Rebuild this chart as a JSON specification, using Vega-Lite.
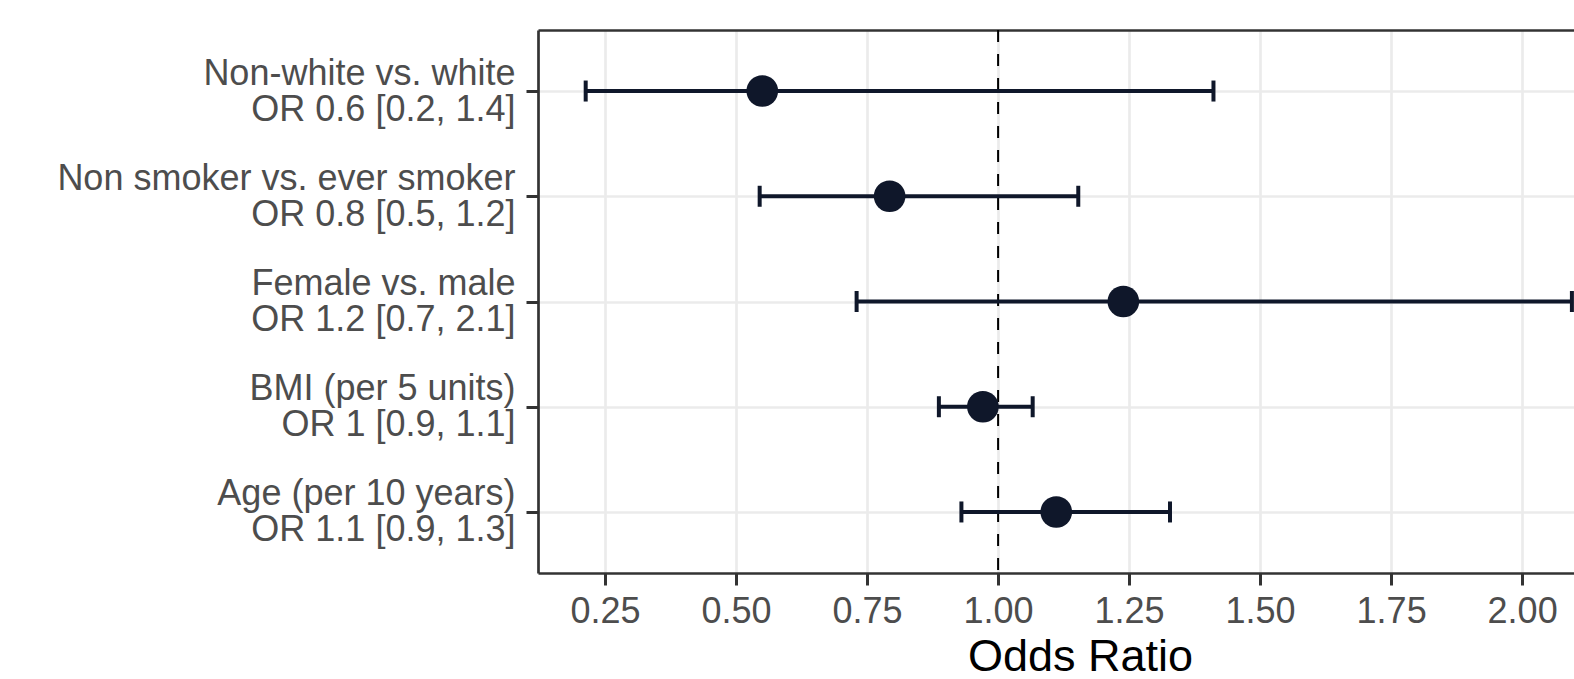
{
  "$schema": "https://vega.github.io/schema/vega-lite/v6.json",
  "width": 1036,
  "height": 543,
  "autosize": {"type": "none"},
  "padding": {"left": 538, "top": 30, "right": 0, "bottom": 106},
  "background": "white",
  "config": {"view": {"stroke": null}, "font": "Liberation Sans"},
  "data": {
    "values": [
      {"label": "Non-white vs. white|OR 0.6 [0.2, 1.4]", "or": 0.550, "lo": 0.213, "hi": 1.411},
      {"label": "Non smoker vs. ever smoker|OR 0.8 [0.5, 1.2]", "or": 0.793, "lo": 0.545, "hi": 1.153},
      {"label": "Female vs. male|OR 1.2 [0.7, 2.1]", "or": 1.239, "lo": 0.730, "hi": 2.095},
      {"label": "BMI (per 5 units)|OR 1 [0.9, 1.1]", "or": 0.971, "lo": 0.887, "hi": 1.066},
      {"label": "Age (per 10 years)|OR 1.1 [0.9, 1.3]", "or": 1.111, "lo": 0.930, "hi": 1.328}
    ]
  },
  "resolve": {"axis": {"x": "independent"}},
  "layer": [
    {
      "data": {"values": [{"ref": 1}]},
      "mark": {"type": "rule", "strokeDash": [12, 12], "strokeWidth": 2, "color": "black"},
      "encoding": {
        "x": {
          "field": "ref", "type": "quantitative",
          "scale": {"domain": [0.122, 2.099], "nice": false, "zero": false},
          "axis": {
            "orient": "bottom",
            "values": [0.25, 0.5, 0.75, 1, 1.25, 1.5, 1.75, 2],
            "format": ".2f",
            "grid": true, "gridColor": "#EBEBEB", "gridWidth": 2.7,
            "domainColor": "#333333", "domainWidth": 2.7,
            "tickColor": "#333333", "tickWidth": 3, "tickSize": 12,
            "labelFontSize": 36, "labelColor": "#4D4D4D", "labelPadding": 9,
            "labelFont": "Liberation Sans", "labelFlush": false, "labelOverlap": false,
            "title": "Odds Ratio", "titleFontSize": 45, "titleColor": "black",
            "titleFontWeight": "normal", "titleFont": "Liberation Sans",
            "titleX": 542, "titleY": 97, "titleBaseline": "alphabetic", "titleAlign": "center"
          }
        }
      }
    },
    {
      "mark": {"type": "rule", "strokeWidth": 4, "color": "#0f172a"},
      "encoding": {
        "y": {
          "field": "label", "type": "nominal", "sort": null,
          "scale": {"type": "point", "padding": 0.58},
          "axis": {
            "title": null,
            "labelExpr": "split(datum.label, '|')",
            "labelFontSize": 36, "labelColor": "#4D4D4D", "labelLineHeight": 36,
            "labelOffset": -18,
            "labelFont": "Liberation Sans", "labelPadding": 11, "labelLimit": 800,
            "tickSize": 12, "tickWidth": 3, "tickColor": "#333333",
            "domainColor": "#333333", "domainWidth": 2.7,
            "grid": true, "gridColor": "#EBEBEB", "gridWidth": 2.7
          }
        },
        "x": {
          "field": "lo", "type": "quantitative",
          "axis": {"orient": "top", "labels": false, "ticks": false, "grid": false, "domain": true, "domainColor": "#333333", "domainWidth": 2.7, "title": null}
        },
        "x2": {"field": "hi"}
      }
    },
    {
      "mark": {"type": "tick", "thickness": 4, "size": 21, "color": "#0f172a", "opacity": 1},
      "encoding": {
        "y": {"field": "label", "type": "nominal", "sort": null},
        "x": {"field": "lo", "type": "quantitative", "axis": null}
      }
    },
    {
      "mark": {"type": "tick", "thickness": 4, "size": 21, "color": "#0f172a", "opacity": 1},
      "encoding": {
        "y": {"field": "label", "type": "nominal", "sort": null},
        "x": {"field": "hi", "type": "quantitative", "axis": null}
      }
    },
    {
      "mark": {"type": "point", "shape": "circle", "filled": true, "size": 1000, "opacity": 1, "color": "#0f172a"},
      "encoding": {
        "y": {"field": "label", "type": "nominal", "sort": null},
        "x": {"field": "or", "type": "quantitative", "axis": null}
      }
    }
  ]
}
